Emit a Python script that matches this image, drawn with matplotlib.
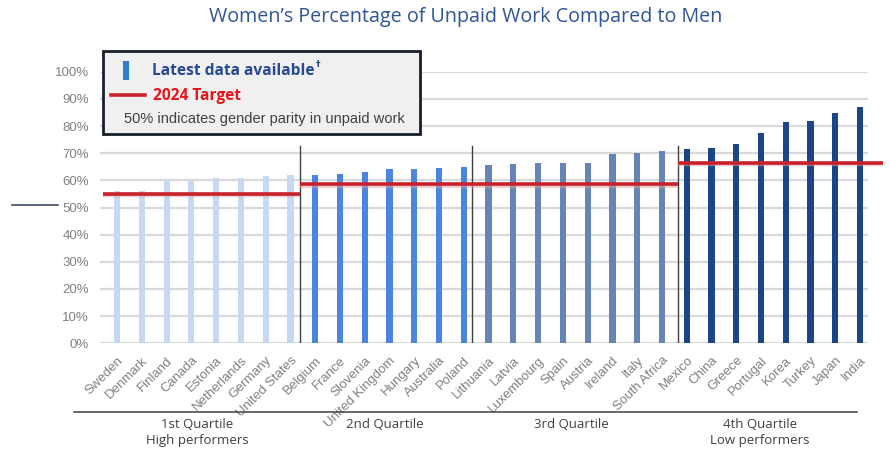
import matplotlib
matplotlib.use("Agg")
import matplotlib.pyplot as plt
import matplotlib.transforms as mtransforms
from matplotlib.patches import Rectangle
from matplotlib.lines import Line2D
import numpy as np

# ---------------- data ----------------
countries = ["Sweden", "Denmark", "Finland", "Canada", "Estonia", "Netherlands",
             "Germany", "United States",
             "Belgium", "France", "Slovenia", "United Kingdom", "Hungary",
             "Australia", "Poland",
             "Lithuania", "Latvia", "Luxembourg", "Spain", "Austria", "Ireland",
             "Italy", "South Africa",
             "Mexico", "China", "Greece", "Portugal", "Korea", "Turkey", "Japan",
             "India"]
values = [56.2, 56.2, 59.9, 59.9, 60.7, 60.7, 61.6, 62.1,
          62.0, 62.3, 63.0, 64.1, 64.3, 64.5, 64.9,
          65.6, 66.1, 66.4, 66.4, 66.4, 69.6, 70.0, 70.8,
          71.5, 72.0, 73.3, 77.3, 81.5, 81.8, 84.7, 87.0]
quartile_sizes = [8, 7, 8, 8]
quartile_labels = ["1st Quartile\nHigh performers", "2nd Quartile",
                   "3rd Quartile", "4th Quartile\nLow performers"]
targets = [54.9, 58.5, 58.5, 66.3]
yticks = [0, 10, 20, 30, 40, 50, 60, 70, 80, 90, 100]
ytick_labels = [f"{v}%" for v in yticks]

# ---------------- style ----------------
q_colors = ["#c6d9f1", "#4a86e0", "#6485b6", "#1c4587"]
red = "#c8232b"
grid_c = "#d9d9d9"
tick_c = "#808080"

fig = plt.figure(figsize=(8.9, 4.5), dpi=100)
ax = fig.add_axes([100 / 890, 1 - 343.3 / 450, 768 / 890, (343.3 - 71.7) / 450])

x = np.arange(len(countries))
group = np.repeat(np.arange(4), quartile_sizes)
colors = [q_colors[g] for g in group]
ax.bar(x, values, width=0.25, color=colors, zorder=3)

ax.set_xlim(-0.69, len(countries) - 0.68)
ax.set_ylim(0, 100)
ax.set_yticks(yticks)
ax.set_yticklabels(ytick_labels, fontsize=9.5, color=tick_c, family="Liberation Sans")
ax.yaxis.grid(True, color=grid_c, linewidth=1.6, zorder=0)
ax.set_axisbelow(True)
for s in ax.spines.values():
    s.set_visible(False)
ax.tick_params(axis="both", length=0)
ax.tick_params(axis="y", pad=8)
ax.set_xticks(x)
ax.set_xticklabels(countries, rotation=45, ha="right", rotation_mode="anchor",
                   fontsize=9.5, color=tick_c, family="Liberation Sans")
ax.tick_params(axis="x", pad=8)

# quartile boundaries (vertical dividers)
ends = np.cumsum(quartile_sizes)[:-1] - 0.5
shift = [-0.12, -0.17, 0.13]
divs = [e + s for e, s in zip(ends, shift)]
for d in divs:
    ax.plot([d, d], [0, 72.6], color="#404040", linewidth=1.0, zorder=4)

# target lines
starts = [-0.57] + divs
stops = divs + [30.92]
shadow = ax.transData + mtransforms.ScaledTranslation(0, -1.2 / 100, fig.dpi_scale_trans)
for t, a, b in zip(targets, starts, stops):
    ax.plot([a, b], [t, t], color="#e0a0a0", linewidth=3.2, alpha=0.5,
            zorder=4, clip_on=False, solid_capstyle="butt", transform=shadow)
    ax.plot([a, b], [t, t], color=red, linewidth=2.6, zorder=5, clip_on=False,
            solid_capstyle="butt")

# bottom quartile line and labels
fig.add_artist(Line2D([74 / 890, 857 / 890], [1 - 411.7 / 450] * 2,
                      color="#404040", linewidth=1.1))
centers = []
start = 0
for n in quartile_sizes:
    centers.append(start + (n - 1) / 2)
    start += n
cshift = [-0.27, -0.18, -0.17, -0.54]
centers = [c + s for c, s in zip(centers, cshift)]
blend = mtransforms.blended_transform_factory(ax.transData, fig.transFigure)
for c, lab in zip(centers, quartile_labels):
    fig.text(c, 1 - 418 / 450, lab, transform=blend, ha="center", va="top",
             fontsize=9.5, color="#404040", family="Open Sans", linespacing=1.3)

# stray short line at left (near 50%)
fig.add_artist(Line2D([12 / 890, 58 / 890], [1 - 205 / 450] * 2,
                      color="#2b3a55", linewidth=1.1))

# title
fig.text(466 / 890, 1 - 17 / 450, "Women\u2019s Percentage of Unpaid Work Compared to Men",
         ha="center", va="center", fontsize=14.2, color="#2f5597", family="Open Sans")

# legend box
bx0, by0, bx1, by1 = 103, 51, 420, 134
fig.add_artist(Rectangle(((bx0 + 2) / 890, 1 - (by1 + 2) / 450), (bx1 - bx0) / 890,
                         (by1 - by0) / 450, transform=fig.transFigure,
                         facecolor="#bfbfbf", edgecolor="none", zorder=9, alpha=0.6))
fig.add_artist(Rectangle((bx0 / 890, 1 - by1 / 450), (bx1 - bx0) / 890, (by1 - by0) / 450,
                         transform=fig.transFigure, facecolor="#f0f0f0",
                         edgecolor="#1a1f2b", linewidth=2.0, zorder=10))
fig.add_artist(Rectangle((123 / 890, 1 - 80 / 450), 6 / 890, 19 / 450,
                         transform=fig.transFigure, facecolor="#2b7fd0",
                         edgecolor="none", zorder=11))
fig.text(152 / 890, 1 - 71 / 450, "Latest data available", ha="left", va="center",
         fontsize=11.2, fontweight="bold", color="#254a91", family="Open Sans", zorder=11)
fig.text(316 / 890, 1 - 65 / 450, "\u2020", ha="left", va="center",
         fontsize=6.5, fontweight="bold", color="#254a91", family="DejaVu Sans", zorder=11)
fig.add_artist(Line2D([111 / 890, 145 / 890], [1 - 95 / 450] * 2, color=red,
                      linewidth=2.6, zorder=11))
fig.text(153 / 890, 1 - 95.5 / 450, "2024 Target", ha="left", va="center",
         fontsize=11.2, fontweight="bold", color="#e8141b", family="Open Sans", zorder=11)
fig.text(124 / 890, 1 - 119.5 / 450, "50% indicates gender parity in unpaid work",
         ha="left", va="center", fontsize=10.5, color="#404040",
         family="Liberation Sans", zorder=11)

fig.savefig("out.png", dpi=100)
